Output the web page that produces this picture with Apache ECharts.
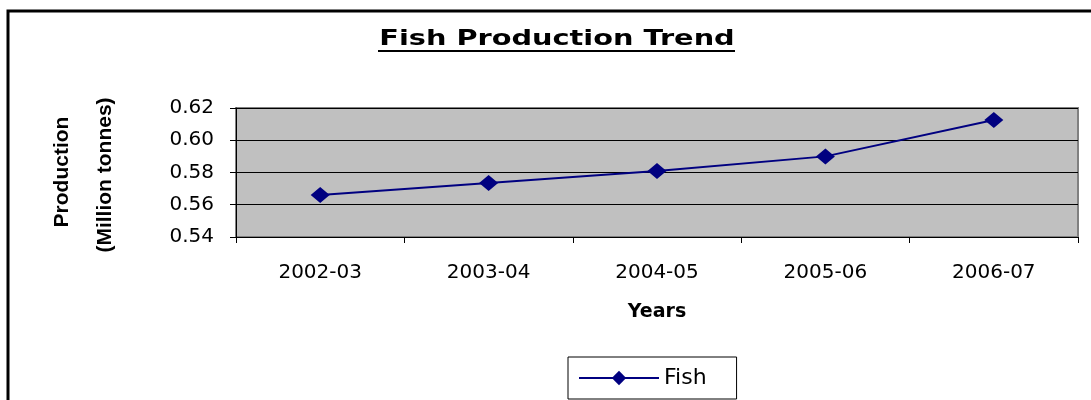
<!DOCTYPE html>
<html>
<head>
<meta charset="utf-8">
<script src="https://cdn.jsdelivr.net/npm/echarts@6/dist/echarts.min.js"></script>
<style>
    html, body { margin: 0; padding: 0; background: #fff; }
    #chart { width: 1091px; height: 400px; }
</style>
</head>
<body>
<div id="chart"></div>
<script>
    // data
    var years = ['2002-03', '2003-04', '2004-05', '2005-06', '2006-07'];
    var fish = [0.566, 0.5735, 0.581, 0.590, 0.6125];
    var yTicks = { min: 0.54, max: 0.62, step: 0.02 };

    var font = 'DejaVu Sans';
    var chart = echarts.init(document.getElementById('chart'));

    var option = {
        backgroundColor: '#fff',
        animation: false,
        grid: {
            left: 236,
            right: 13,
            top: 108,
            bottom: 163,
            show: true,
            backgroundColor: '#c0c0c0',
            borderColor: '#808080',
            borderWidth: 2
        },
        legend: {
            left: 568,
            top: 357,
            padding: [10, 30, 10, 10],
            borderColor: '#000',
            borderWidth: 1,
            itemWidth: 80,
            itemHeight: 18,
            itemGap: 10,
            textStyle: { fontFamily: font, fontSize: 22, color: '#000' },
            data: ['Fish']
        },
        xAxis: {
            type: 'category',
            data: years,
            name: 'Years',
            nameLocation: 'middle',
            nameGap: 66,
            nameTextStyle: { fontFamily: font, fontSize: 19, fontWeight: 'bold', color: '#000' },
            axisLine: { lineStyle: { color: '#000', width: 1 } },
            axisTick: { show: true, length: 6, lineStyle: { color: '#000' } },
            axisLabel: { margin: 26, fontFamily: font, fontSize: 20, color: '#000' }
        },
        yAxis: {
            type: 'value',
            min: yTicks.min,
            max: yTicks.max,
            interval: yTicks.step,
            axisLine: { show: true, lineStyle: { color: '#000', width: 1 } },
            axisTick: { show: true, length: 6, lineStyle: { color: '#000' } },
            axisLabel: {
                margin: 22,
                fontFamily: font,
                fontSize: 20,
                color: '#000',
                formatter: function (v) { return v.toFixed(2); }
            },
            splitLine: { show: true, lineStyle: { color: '#000', width: 1 } }
        },
        series: [{
            name: 'Fish',
            type: 'line',
            data: fish,
            symbol: 'diamond',
            symbolSize: [19, 16],
            lineStyle: { color: '#000080', width: 2 },
            itemStyle: { color: '#000080' }
        }],
        graphic: [
            // outer chart frame
            {
                type: 'rect',
                shape: { x: 8, y: 11, width: 1110, height: 420 },
                style: { fill: null, stroke: '#000', lineWidth: 3 },
                silent: true
            },
            {
                type: 'text',
                x: 557,
                y: 40,
                scaleX: 1.37,
                style: {
                    text: 'Fish Production Trend',
                    fontFamily: font,
                    fontSize: 21,
                    fontWeight: 'bold',
                    fill: '#000',
                    align: 'center',
                    verticalAlign: 'middle'
                }
            },
            {
                type: 'line',
                shape: { x1: 378, y1: 51, x2: 735, y2: 51 },
                style: { stroke: '#000', lineWidth: 2 }
            },
            {
                type: 'text',
                x: 62,
                y: 172,
                rotation: Math.PI / 2,
                style: {
                    text: 'Production',
                    fontFamily: 'Liberation Sans',
                    fontSize: 21,
                    fontWeight: 'bold',
                    fill: '#000',
                    align: 'center',
                    verticalAlign: 'middle'
                }
            },
            {
                type: 'text',
                x: 105,
                y: 175,
                rotation: Math.PI / 2,
                style: {
                    text: '(Million tonnes)',
                    fontFamily: 'Liberation Sans',
                    fontSize: 21,
                    fontWeight: 'bold',
                    fill: '#000',
                    align: 'center',
                    verticalAlign: 'middle'
                }
            }
        ]
    };

    chart.setOption(option);
</script>
</body>
</html>
